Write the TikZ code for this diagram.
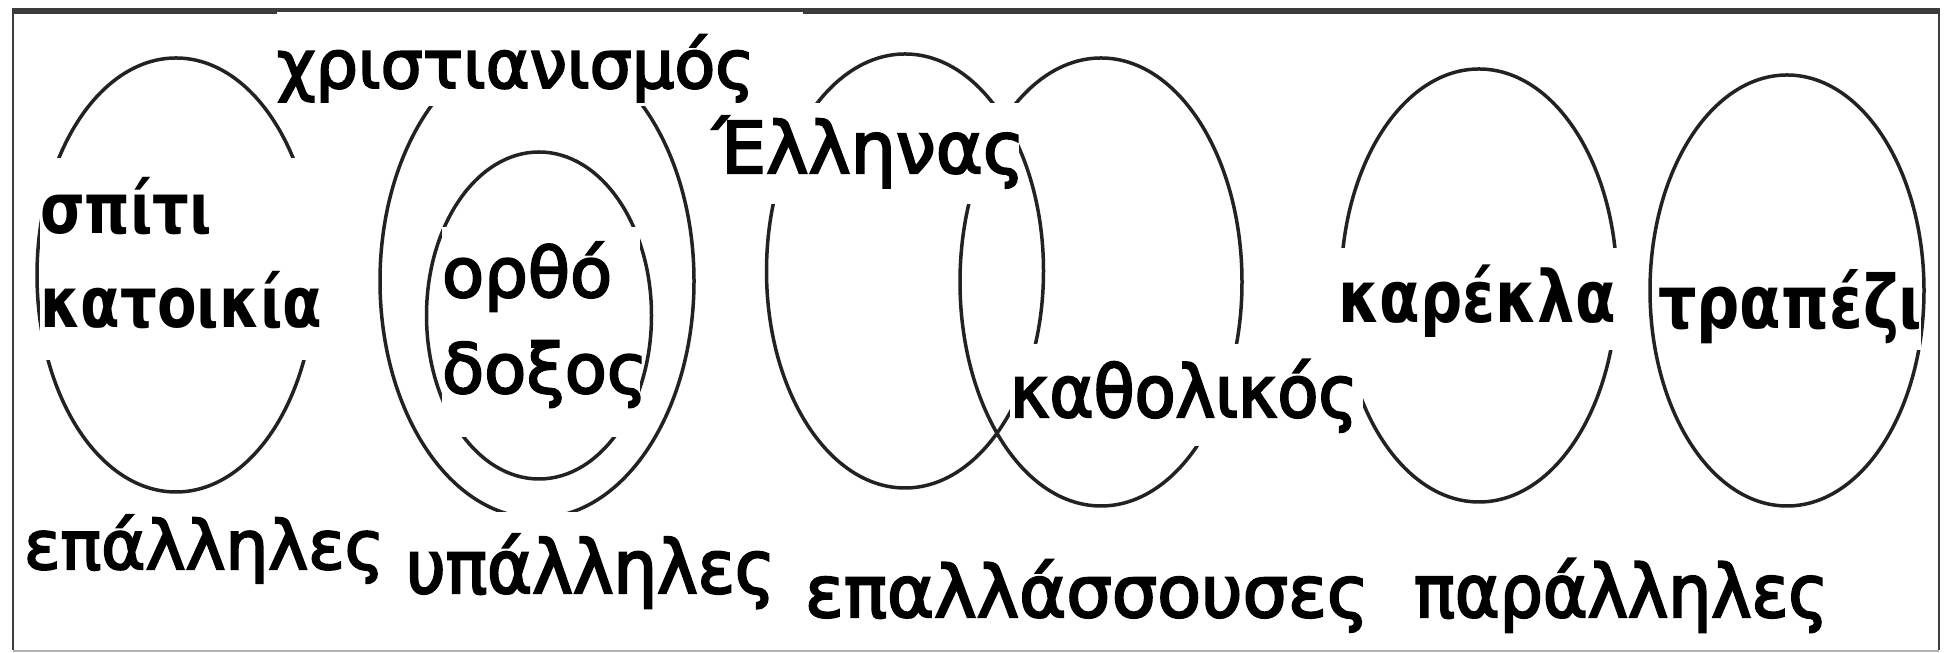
\documentclass[tikz,border=0pt]{standalone}
\usepackage{fontspec}
\newfontfamily\grfont[FakeStretch=1.0, FakeBold=3]{DejaVu Sans}
\newfontfamily\grnarrow[FakeStretch=0.93, FakeBold=3]{DejaVu Sans}
\newfontfamily\grbold[FakeStretch=0.82]{DejaVu Sans Bold}
\definecolor{framegray}{HTML}{3C3C3C}
\definecolor{linegray}{HTML}{222222}
\tikzset{
  venn/.style={draw=linegray, line width=0.35mm},
  lbl/.style={fill=white, inner sep=0pt, outer sep=0pt, anchor=base west, align=left},
}
\begin{document}
\begin{tikzpicture}[x=1cm,y=1cm]
\useasboundingbox (0,0) rectangle (19.48,6.53);
\draw[framegray, line width=0.22mm] (0.13,0.03) -- (0.13,6.42) (19.39,6.42) -- (19.39,0.03);
\draw[gray!60, line width=0.15mm] (0.13,0.02) -- (19.39,0.02);
\draw[framegray, line width=0.65mm] (0.12,6.42) -- (19.40,6.42);

\draw[venn] (1.76,3.78) ellipse [x radius=1.39, y radius=2.17];
\draw[venn] (5.37,3.72) ellipse [x radius=1.57, y radius=2.37];
\draw[venn] (5.39,3.375) ellipse [x radius=1.125, y radius=1.635];
\draw[venn] (9.05,3.82) ellipse [x radius=1.385, y radius=2.17];
\draw[venn] (11.01,3.71) ellipse [x radius=1.41, y radius=2.24];
\draw[venn] (14.79,3.675) ellipse [x radius=1.38, y radius=2.165];
\draw[venn] (17.87,3.625) ellipse [x radius=1.37, y radius=2.155];

\node[lbl, text width=2.82cm, text height=0.76cm, text depth=1.26cm, font={\grbold\fontsize{20pt}{26.5pt}\selectfont}] (spiti) at (0.40,4.19) {σπίτι\\κατοικία};
\node[lbl, text width=5.26cm, text height=0.76cm, text depth=0.18cm, font={\grfont\fontsize{19pt}{24pt}\selectfont}] (xrist) at (2.77,5.65) {χριστιανισμός};
\node[lbl, text width=1.98cm, text height=0.70cm, text depth=1.40cm, font={\grfont\fontsize{19.6pt}{27.3pt}\selectfont}] (ortho) at (4.42,3.56) {ορθό\\δοξος};
\node[lbl, text width=3.06cm, text height=0.70cm, text depth=0.31cm, font={\grfont\fontsize{20.3pt}{24pt}\selectfont}] (ellinas) at (7.13,4.80) {Έλληνας};
\node[lbl, text width=3.53cm, text height=0.73cm, text depth=0.29cm, font={\grnarrow\fontsize{20.5pt}{24pt}\selectfont}] (kathol) at (10.10,2.36) {καθολικός};
\node[lbl, text width=2.82cm, text height=0.75cm, text depth=0.27cm, font={\grbold\fontsize{20.5pt}{24pt}\selectfont}] (karekla) at (13.38,3.30) {καρέκλα};
\node[lbl, text width=2.63cm, text height=0.64cm, text depth=0.21cm, font={\grbold\fontsize{21pt}{24pt}\selectfont}] (trapezi) at (16.58,3.24) {τραπέζι};

\node[lbl, text width=3.60cm, text height=0.60cm, text depth=0.20cm, font={\grfont\fontsize{19.2pt}{24pt}\selectfont}] (epall) at (0.24,0.84) {επάλληλες};
\node[lbl, text width=3.64cm, text height=0.81cm, text depth=0.30cm, font={\grnarrow\fontsize{21pt}{24pt}\selectfont}] (ypall) at (4.06,0.60) {υπάλληλες};
\node[lbl, text width=5.55cm, text height=0.70cm, text depth=0.25cm, font={\grfont\fontsize{20.4pt}{24pt}\selectfont}] (epallass) at (8.05,0.36) {επαλλάσσουσες};
\node[lbl, text width=4.10cm, text height=0.70cm, text depth=0.25cm, font={\grnarrow\fontsize{20.8pt}{24pt}\selectfont}] (parall) at (14.14,0.36) {παράλληλες};
\end{tikzpicture}
\end{document}
